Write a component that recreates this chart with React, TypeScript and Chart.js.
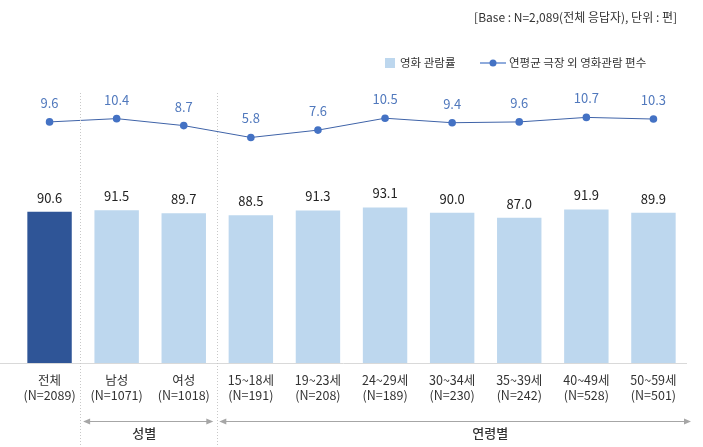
import React, { useEffect, useRef } from "react";
import { Chart, registerables } from "chart.js";

Chart.register(...registerables);

const groupNames = ["전체", "남성", "여성", "15~18세", "19~23세", "24~29세", "30~34세", "35~39세", "40~49세", "50~59세"];
const sampleSizes = ["(N=2089)", "(N=1071)", "(N=1018)", "(N=191)", "(N=208)", "(N=189)", "(N=230)", "(N=242)", "(N=528)", "(N=501)"];
const viewingRate = [90.6, 91.5, 89.7, 88.5, 91.3, 93.1, 90.0, 87.0, 91.9, 89.9];
const avgCount = [9.6, 10.4, 8.7, 5.8, 7.6, 10.5, 9.4, 9.6, 10.7, 10.3];
const barLegend = "영화 관람률";
const lineLegend = "연평균 극장 외 영화관람 편수";
const noteText = "[Base : N=2,089(전체 응답자), 단위 : 편]";
const groupSpans = [
  { label: "성별", from: 1, to: 2 },
  { label: "연령별", from: 3, to: 9 },
];

const FONT = "'Noto Sans CJK KR', 'Noto Sans', sans-serif";
const DARK = "#2F5597";
const LIGHT = "#BDD7EE";
const LINE = "#4472C4";

const overlayPlugin = {
  id: "overlay",
  afterDraw(chart: any) {
    const ctx = chart.ctx;
    const area = chart.chartArea;
    const x = chart.scales.x;
    const step = x.getPixelForValue(1) - x.getPixelForValue(0);
    ctx.save();

    // baseline
    ctx.strokeStyle = "#d9d9d9";
    ctx.lineWidth = 1;
    ctx.beginPath();
    ctx.moveTo(0, Math.round(area.bottom) + 0.5);
    ctx.lineTo(area.right, Math.round(area.bottom) + 0.5);
    ctx.stroke();

    // separators
    ctx.strokeStyle = "#c8c8c8";
    ctx.setLineDash([1, 2]);
    [0, 2].forEach((i) => {
      const sx = Math.round(x.getPixelForValue(i) + step / 2 - (i === 0 ? 3 : 0)) + 0.5;
      ctx.beginPath();
      ctx.moveTo(sx, 93);
      ctx.lineTo(sx, chart.height);
      ctx.stroke();
    });
    ctx.setLineDash([]);

    // group arrows
    const ay = 421.5;
    ctx.strokeStyle = "#a6a6a6";
    ctx.fillStyle = "#a6a6a6";
    groupSpans.forEach((g, gi) => {
      const x0 = x.getPixelForValue(g.from) - step / 2 + (gi === 0 ? 0 : 2);
      const x1 = gi === 0 ? x.getPixelForValue(g.to) + step / 2 - 4 : area.right + 4;
      ctx.beginPath();
      ctx.moveTo(x0 + 4, ay);
      ctx.lineTo(x1 - 4, ay);
      ctx.stroke();
      ctx.beginPath();
      ctx.moveTo(x0, ay);
      ctx.lineTo(x0 + 7, ay - 3);
      ctx.lineTo(x0 + 7, ay + 3);
      ctx.closePath();
      ctx.fill();
      ctx.beginPath();
      ctx.moveTo(x1, ay);
      ctx.lineTo(x1 - 7, ay - 3);
      ctx.lineTo(x1 - 7, ay + 3);
      ctx.closePath();
      ctx.fill();
      ctx.fillStyle = "#333";
      ctx.font = `500 13px ${FONT}`;
      ctx.textAlign = "center";
      ctx.textBaseline = "middle";
      const cx = gi === 0 ? (x0 + x1) / 2 - 4 : (x0 + x1) / 2 + 35;
      ctx.fillText(g.label, cx, 433.5);
      ctx.fillStyle = "#a6a6a6";
    });

    // note
    ctx.fillStyle = "#333";
    ctx.font = `12px ${FONT}`;
    ctx.textAlign = "right";
    ctx.textBaseline = "middle";
    ctx.fillText(noteText, 677, 17);

    // legend
    ctx.fillStyle = LIGHT;
    ctx.fillRect(385, 58, 10, 10);
    ctx.fillStyle = "#333";
    ctx.textAlign = "left";
    ctx.font = `11.5px ${FONT}`;
    ctx.fillText(barLegend, 400, 63);
    ctx.strokeStyle = LINE;
    ctx.lineWidth = 1.2;
    ctx.beginPath();
    ctx.moveTo(480, 63);
    ctx.lineTo(506, 63);
    ctx.stroke();
    ctx.fillStyle = LINE;
    ctx.beginPath();
    ctx.arc(493, 63, 3.5, 0, Math.PI * 2);
    ctx.fill();
    ctx.fillStyle = "#333";
    ctx.fillText(lineLegend, 509, 63);

    // value labels
    ctx.textAlign = "center";
    ctx.textBaseline = "middle";
    ctx.font = `13px ${FONT}`;
    const barMeta = chart.getDatasetMeta(0);
    barMeta.data.forEach((el: any, i: number) => {
      ctx.fillStyle = "#222";
      ctx.fillText(viewingRate[i].toFixed(1), el.x, el.y - 14);
    });
    const lineMeta = chart.getDatasetMeta(1);
    lineMeta.data.forEach((el: any, i: number) => {
      ctx.fillStyle = "#5179bd";
      ctx.fillText(avgCount[i].toFixed(1), el.x, el.y - 19);
    });
    ctx.restore();
  },
};

export default function App() {
  const ref = useRef<HTMLCanvasElement>(null);
  useEffect(() => {
    if (!ref.current) return;
    const chart = new Chart(ref.current, {
      type: "bar",
      data: {
        labels: groupNames.map((g, i) => [g, sampleSizes[i]]),
        datasets: [
          {
            type: "bar",
            label: barLegend,
            data: viewingRate,
            backgroundColor: viewingRate.map((_, i) => (i === 0 ? DARK : LIGHT)),
            categoryPercentage: 1,
            barPercentage: 0.662,
            yAxisID: "y",
            order: 2,
          },
          {
            type: "line",
            label: lineLegend,
            data: avgCount,
            borderColor: "#3f63a8",
            backgroundColor: LINE,
            borderWidth: 1,
            pointRadius: 3.8,
            pointBackgroundColor: LINE,
            pointBorderWidth: 0,
            yAxisID: "y1",
            order: 1,
          } as any,
        ],
      },
      options: {
        animation: false,
        responsive: true,
        maintainAspectRatio: false,
        layout: { padding: { left: 16, right: 16, top: 60, bottom: 0 } },
        plugins: { legend: { display: false }, tooltip: { enabled: false } },
        scales: {
          x: {
            grid: { display: false, drawTicks: false },
            border: { display: false },
            ticks: {
              padding: 10,
              color: "#333",
              font: { family: FONT, size: 12.5, lineHeight: 1.2 },
              maxRotation: 0,
              autoSkip: false,
            },
            afterFit: (s: any) => {
              s.height = 84;
            },
          },
          y: { display: false, min: 0, max: 181.4 },
          y1: { display: false, min: -49.2, max: 24.7, position: "right" },
        },
      },
      plugins: [overlayPlugin],
    });
    return () => chart.destroy();
  }, []);
  return (
    <div style={{ position: "fixed", left: 0, top: 0, width: 703, height: 447, background: "#fff" }}>
      <canvas ref={ref} />
    </div>
  );
}
